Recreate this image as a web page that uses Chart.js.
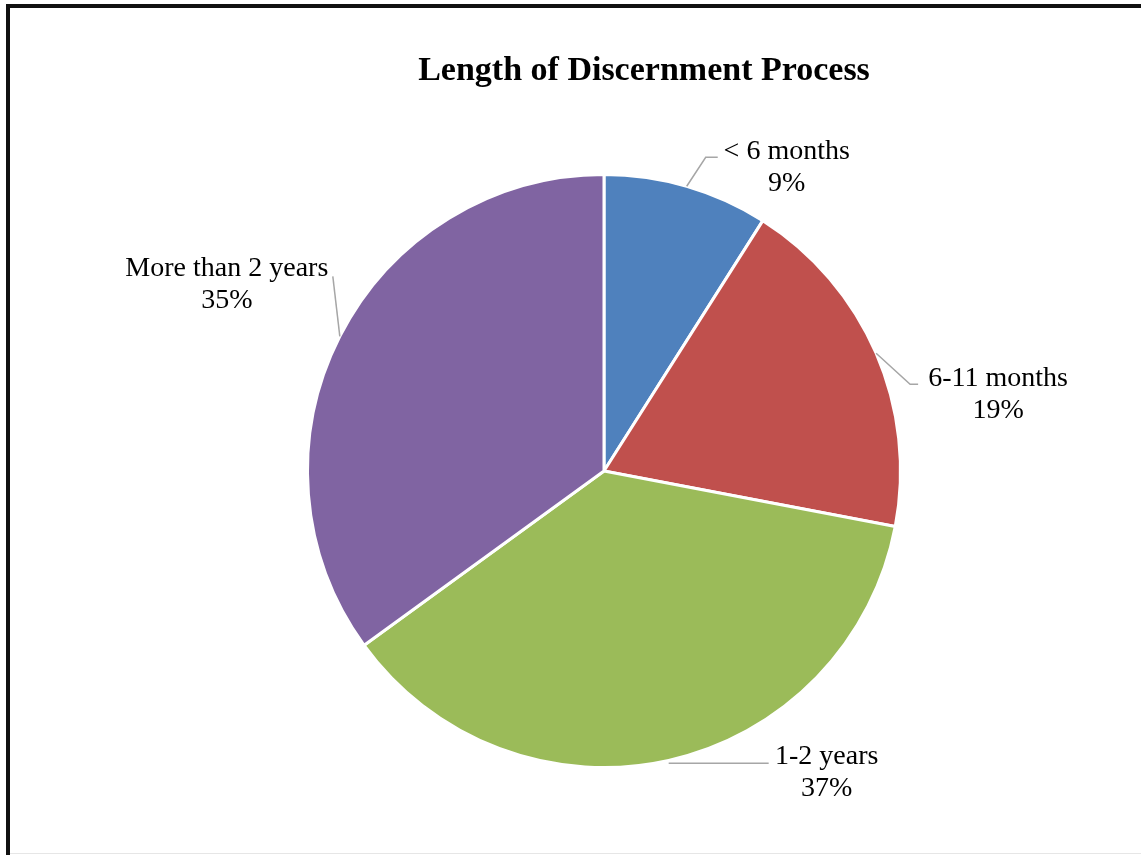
<!DOCTYPE html>
<html>
<head>
<meta charset="utf-8">
<script src="https://cdn.jsdelivr.net/npm/chart.js@4/dist/chart.umd.min.js"></script>
<style>
  html, body { margin: 0; padding: 0; background: #fff; }
  #wrap { position: relative; width: 1141px; height: 855px; }
</style>
</head>
<body>
<div id="wrap"><canvas id="pieChart" width="1141" height="855"></canvas></div>
<script>
  const categories = ['< 6 months', '6-11 months', '1-2 years', 'More than 2 years'];
  const shares = [9, 19, 37, 35];
  const sliceColors = ['#4f81bd', '#c0504d', '#9bbb59', '#8064a2'];
  const chartTitle = 'Length of Discernment Process';

  // label placement relative to the slice edge point: text centre + leader path
  const labelLayout = [
    { tx: 100, ty: -35, leader: [[0, 0], [19, -29], [31, -29]] },
    { tx: 122, ty: 25, leader: [[0, 0], [34, 31], [42, 31]] },
    { tx: 158, ty: -4, leader: [[0, 3], [100, 3]] },
    { tx: -113, ty: -68, leader: [[0, 0], [-7, -60]] }
  ];

  const serif = '"Liberation Serif", "DejaVu Serif", serif';

  const framePlugin = {
    id: 'frame',
    afterDraw(chart) {
      const ctx = chart.ctx;
      ctx.save();
      ctx.fillStyle = '#111';
      ctx.fillRect(6, 4, 1141 - 6, 4);
      ctx.fillRect(6, 4, 4, 855 - 4);
      ctx.fillStyle = '#e6e6e6';
      ctx.fillRect(10, 853, 1141 - 10, 1);
      ctx.fillStyle = '#000';
      ctx.font = 'bold 34px ' + serif;
      ctx.textAlign = 'center';
      ctx.textBaseline = 'middle';
      ctx.fillText(chartTitle, 644, 71);
      ctx.restore();
    }
  };

  const labelPlugin = {
    id: 'sliceLabels',
    afterDatasetsDraw(chart) {
      const ctx = chart.ctx;
      const meta = chart.getDatasetMeta(0);
      const total = shares.reduce((a, b) => a + b, 0);
      ctx.save();
      meta.data.forEach((arc, i) => {
        const mid = (arc.startAngle + arc.endAngle) / 2;
        const ex = arc.x + Math.cos(mid) * arc.outerRadius;
        const ey = arc.y + Math.sin(mid) * arc.outerRadius;
        const lay = labelLayout[i];
        ctx.strokeStyle = '#a6a6a6';
        ctx.lineWidth = 1.5;
        ctx.beginPath();
        lay.leader.forEach((p, k) => {
          if (k === 0) ctx.moveTo(ex + p[0], ey + p[1]);
          else ctx.lineTo(ex + p[0], ey + p[1]);
        });
        ctx.stroke();
        ctx.fillStyle = '#000';
        ctx.font = '28px ' + serif;
        ctx.textAlign = 'center';
        ctx.textBaseline = 'middle';
        const pct = Math.round(shares[i] / total * 100) + '%';
        ctx.fillText(categories[i], ex + lay.tx, ey + lay.ty);
        ctx.fillText(pct, ex + lay.tx, ey + lay.ty + 32);
      });
      ctx.restore();
    }
  };

  new Chart(document.getElementById('pieChart').getContext('2d'), {
    type: 'pie',
    data: {
      labels: categories,
      datasets: [{
        data: shares,
        backgroundColor: sliceColors,
        borderColor: '#ffffff',
        borderWidth: 3
      }]
    },
    options: {
      responsive: false,
      animation: false,
      layout: { padding: { top: 173, bottom: 86, left: 306, right: 239 } },
      plugins: {
        legend: { display: false },
        title: { display: false },
        tooltip: { enabled: false }
      }
    },
    plugins: [framePlugin, labelPlugin]
  });
</script>
</body>
</html>
